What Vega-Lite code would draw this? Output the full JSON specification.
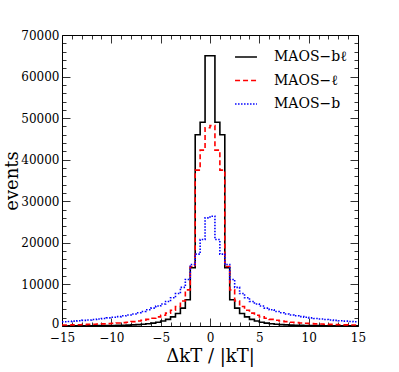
{
  "$schema": "https://vega.github.io/schema/vega-lite/v6.json",
  "width": 296,
  "height": 291,
  "autosize": "none",
  "padding": {"left": 62, "top": 35, "right": 41, "bottom": 46},
  "config": {
    "view": {"stroke": "black", "strokeWidth": 1},
    "font": "DejaVu Serif",
    "axis": {"labelFont": "DejaVu Serif", "titleFont": "DejaVu Serif", "labelColor": "black", "titleColor": "black", "tickColor": "black", "titleFontWeight": "normal", "grid": false, "domain": false, "labelOverlap": false, "labelFlush": false, "tickWidth": 0.8}
  },
  "data": {"values": [
    {"s":"MAOS−bℓ","x":-15,"n":40},{"s":"MAOS−bℓ","x":-14.5,"n":40},{"s":"MAOS−bℓ","x":-14,"n":45},{"s":"MAOS−bℓ","x":-13.5,"n":50},{"s":"MAOS−bℓ","x":-13,"n":55},{"s":"MAOS−bℓ","x":-12.5,"n":60},{"s":"MAOS−bℓ","x":-12,"n":70},{"s":"MAOS−bℓ","x":-11.5,"n":80},{"s":"MAOS−bℓ","x":-11,"n":90},{"s":"MAOS−bℓ","x":-10.5,"n":100},
    {"s":"MAOS−bℓ","x":-10,"n":120},{"s":"MAOS−bℓ","x":-9.5,"n":150},{"s":"MAOS−bℓ","x":-9,"n":180},{"s":"MAOS−bℓ","x":-8.5,"n":220},{"s":"MAOS−bℓ","x":-8,"n":270},{"s":"MAOS−bℓ","x":-7.5,"n":340},{"s":"MAOS−bℓ","x":-7,"n":430},{"s":"MAOS−bℓ","x":-6.5,"n":550},{"s":"MAOS−bℓ","x":-6,"n":700},{"s":"MAOS−bℓ","x":-5.5,"n":900},
    {"s":"MAOS−bℓ","x":-5,"n":1200},{"s":"MAOS−bℓ","x":-4.5,"n":1600},{"s":"MAOS−bℓ","x":-4,"n":2200},{"s":"MAOS−bℓ","x":-3.5,"n":3000},{"s":"MAOS−bℓ","x":-3,"n":4300},{"s":"MAOS−bℓ","x":-2.5,"n":6300},{"s":"MAOS−bℓ","x":-2,"n":14000},{"s":"MAOS−bℓ","x":-1.5,"n":46000},{"s":"MAOS−bℓ","x":-1,"n":49000},{"s":"MAOS−bℓ","x":-0.5,"n":65000},
    {"s":"MAOS−bℓ","x":0,"n":65000},{"s":"MAOS−bℓ","x":0.5,"n":49000},{"s":"MAOS−bℓ","x":1,"n":46000},{"s":"MAOS−bℓ","x":1.5,"n":14000},{"s":"MAOS−bℓ","x":2,"n":6300},{"s":"MAOS−bℓ","x":2.5,"n":4300},{"s":"MAOS−bℓ","x":3,"n":3000},{"s":"MAOS−bℓ","x":3.5,"n":2200},{"s":"MAOS−bℓ","x":4,"n":1600},{"s":"MAOS−bℓ","x":4.5,"n":1200},
    {"s":"MAOS−bℓ","x":5,"n":900},{"s":"MAOS−bℓ","x":5.5,"n":700},{"s":"MAOS−bℓ","x":6,"n":550},{"s":"MAOS−bℓ","x":6.5,"n":430},{"s":"MAOS−bℓ","x":7,"n":340},{"s":"MAOS−bℓ","x":7.5,"n":270},{"s":"MAOS−bℓ","x":8,"n":220},{"s":"MAOS−bℓ","x":8.5,"n":180},{"s":"MAOS−bℓ","x":9,"n":150},{"s":"MAOS−bℓ","x":9.5,"n":120},
    {"s":"MAOS−bℓ","x":10,"n":100},{"s":"MAOS−bℓ","x":10.5,"n":90},{"s":"MAOS−bℓ","x":11,"n":80},{"s":"MAOS−bℓ","x":11.5,"n":70},{"s":"MAOS−bℓ","x":12,"n":60},{"s":"MAOS−bℓ","x":12.5,"n":55},{"s":"MAOS−bℓ","x":13,"n":50},{"s":"MAOS−bℓ","x":13.5,"n":45},{"s":"MAOS−bℓ","x":14,"n":40},{"s":"MAOS−bℓ","x":14.5,"n":40},{"s":"MAOS−bℓ","x":15,"n":40},

    {"s":"MAOS−ℓ","x":-15,"n":230},{"s":"MAOS−ℓ","x":-14.5,"n":250},{"s":"MAOS−ℓ","x":-14,"n":280},{"s":"MAOS−ℓ","x":-13.5,"n":310},{"s":"MAOS−ℓ","x":-13,"n":340},{"s":"MAOS−ℓ","x":-12.5,"n":380},{"s":"MAOS−ℓ","x":-12,"n":420},{"s":"MAOS−ℓ","x":-11.5,"n":470},{"s":"MAOS−ℓ","x":-11,"n":520},{"s":"MAOS−ℓ","x":-10.5,"n":580},
    {"s":"MAOS−ℓ","x":-10,"n":650},{"s":"MAOS−ℓ","x":-9.5,"n":730},{"s":"MAOS−ℓ","x":-9,"n":820},{"s":"MAOS−ℓ","x":-8.5,"n":920},{"s":"MAOS−ℓ","x":-8,"n":1050},{"s":"MAOS−ℓ","x":-7.5,"n":1200},{"s":"MAOS−ℓ","x":-7,"n":1400},{"s":"MAOS−ℓ","x":-6.5,"n":1600},{"s":"MAOS−ℓ","x":-6,"n":1850},{"s":"MAOS−ℓ","x":-5.5,"n":2200},
    {"s":"MAOS−ℓ","x":-5,"n":2600},{"s":"MAOS−ℓ","x":-4.5,"n":3100},{"s":"MAOS−ℓ","x":-4,"n":3800},{"s":"MAOS−ℓ","x":-3.5,"n":4700},{"s":"MAOS−ℓ","x":-3,"n":6000},{"s":"MAOS−ℓ","x":-2.5,"n":8700},{"s":"MAOS−ℓ","x":-2,"n":14300},{"s":"MAOS−ℓ","x":-1.5,"n":37500},{"s":"MAOS−ℓ","x":-1,"n":42300},{"s":"MAOS−ℓ","x":-0.5,"n":47700},
    {"s":"MAOS−ℓ","x":0,"n":48200},{"s":"MAOS−ℓ","x":0.5,"n":42300},{"s":"MAOS−ℓ","x":1,"n":37500},{"s":"MAOS−ℓ","x":1.5,"n":14300},{"s":"MAOS−ℓ","x":2,"n":8700},{"s":"MAOS−ℓ","x":2.5,"n":6000},{"s":"MAOS−ℓ","x":3,"n":4700},{"s":"MAOS−ℓ","x":3.5,"n":3800},{"s":"MAOS−ℓ","x":4,"n":3100},{"s":"MAOS−ℓ","x":4.5,"n":2600},
    {"s":"MAOS−ℓ","x":5,"n":2200},{"s":"MAOS−ℓ","x":5.5,"n":1850},{"s":"MAOS−ℓ","x":6,"n":1600},{"s":"MAOS−ℓ","x":6.5,"n":1400},{"s":"MAOS−ℓ","x":7,"n":1200},{"s":"MAOS−ℓ","x":7.5,"n":1050},{"s":"MAOS−ℓ","x":8,"n":920},{"s":"MAOS−ℓ","x":8.5,"n":820},{"s":"MAOS−ℓ","x":9,"n":730},{"s":"MAOS−ℓ","x":9.5,"n":650},
    {"s":"MAOS−ℓ","x":10,"n":580},{"s":"MAOS−ℓ","x":10.5,"n":520},{"s":"MAOS−ℓ","x":11,"n":470},{"s":"MAOS−ℓ","x":11.5,"n":420},{"s":"MAOS−ℓ","x":12,"n":380},{"s":"MAOS−ℓ","x":12.5,"n":340},{"s":"MAOS−ℓ","x":13,"n":310},{"s":"MAOS−ℓ","x":13.5,"n":280},{"s":"MAOS−ℓ","x":14,"n":250},{"s":"MAOS−ℓ","x":14.5,"n":230},{"s":"MAOS−ℓ","x":15,"n":230},

    {"s":"MAOS−b","x":-15,"n":1020},{"s":"MAOS−b","x":-14.5,"n":1090},{"s":"MAOS−b","x":-14,"n":1170},{"s":"MAOS−b","x":-13.5,"n":1260},{"s":"MAOS−b","x":-13,"n":1350},{"s":"MAOS−b","x":-12.5,"n":1450},{"s":"MAOS−b","x":-12,"n":1560},{"s":"MAOS−b","x":-11.5,"n":1680},{"s":"MAOS−b","x":-11,"n":1800},{"s":"MAOS−b","x":-10.5,"n":1950},
    {"s":"MAOS−b","x":-10,"n":2100},{"s":"MAOS−b","x":-9.5,"n":2250},{"s":"MAOS−b","x":-9,"n":2450},{"s":"MAOS−b","x":-8.5,"n":2650},{"s":"MAOS−b","x":-8,"n":2900},{"s":"MAOS−b","x":-7.5,"n":3200},{"s":"MAOS−b","x":-7,"n":3500},{"s":"MAOS−b","x":-6.5,"n":3900},{"s":"MAOS−b","x":-6,"n":4300},{"s":"MAOS−b","x":-5.5,"n":4800},
    {"s":"MAOS−b","x":-5,"n":5300},{"s":"MAOS−b","x":-4.5,"n":5900},{"s":"MAOS−b","x":-4,"n":6800},{"s":"MAOS−b","x":-3.5,"n":7800},{"s":"MAOS−b","x":-3,"n":9300},{"s":"MAOS−b","x":-2.5,"n":11200},{"s":"MAOS−b","x":-2,"n":14800},{"s":"MAOS−b","x":-1.5,"n":17300},{"s":"MAOS−b","x":-1,"n":20800},{"s":"MAOS−b","x":-0.5,"n":26000},
    {"s":"MAOS−b","x":0,"n":26400},{"s":"MAOS−b","x":0.5,"n":20800},{"s":"MAOS−b","x":1,"n":17300},{"s":"MAOS−b","x":1.5,"n":14800},{"s":"MAOS−b","x":2,"n":11200},{"s":"MAOS−b","x":2.5,"n":9300},{"s":"MAOS−b","x":3,"n":7800},{"s":"MAOS−b","x":3.5,"n":6800},{"s":"MAOS−b","x":4,"n":5900},{"s":"MAOS−b","x":4.5,"n":5300},
    {"s":"MAOS−b","x":5,"n":4800},{"s":"MAOS−b","x":5.5,"n":4300},{"s":"MAOS−b","x":6,"n":3900},{"s":"MAOS−b","x":6.5,"n":3500},{"s":"MAOS−b","x":7,"n":3200},{"s":"MAOS−b","x":7.5,"n":2900},{"s":"MAOS−b","x":8,"n":2650},{"s":"MAOS−b","x":8.5,"n":2450},{"s":"MAOS−b","x":9,"n":2250},{"s":"MAOS−b","x":9.5,"n":2100},
    {"s":"MAOS−b","x":10,"n":1950},{"s":"MAOS−b","x":10.5,"n":1800},{"s":"MAOS−b","x":11,"n":1680},{"s":"MAOS−b","x":11.5,"n":1560},{"s":"MAOS−b","x":12,"n":1450},{"s":"MAOS−b","x":12.5,"n":1350},{"s":"MAOS−b","x":13,"n":1260},{"s":"MAOS−b","x":13.5,"n":1170},{"s":"MAOS−b","x":14,"n":1090},{"s":"MAOS−b","x":14.5,"n":1020},{"s":"MAOS−b","x":15,"n":1020}
  ]},
  "layer": [
    {
      "mark": {"type": "line", "interpolate": "step-after", "strokeWidth": 1.6, "clip": true},
      "encoding": {
        "x": {"field": "x", "type": "quantitative",
          "scale": {"domain": [-15, 15], "nice": false, "zero": false},
          "axis": {"orient": "bottom", "values": [-15,-14,-13,-12,-11,-10,-9,-8,-7,-6,-5,-4,-3,-2,-1,0,1,2,3,4,5,6,7,8,9,10,11,12,13,14,15],
            "format": "d", "labelExpr": "datum.value % 5 === 0 ? datum.label : ''",
            "tickSize": {"condition": {"test": "datum.value % 5 === 0", "value": -8}, "value": -4},
            "labelPadding": 14, "labelFontSize": 12,
            "title": "ΔkT / |kT|", "titleFontSize": 18, "titlePadding": 0}},
        "y": {"field": "n", "type": "quantitative",
          "scale": {"domain": [0, 70000], "nice": false},
          "axis": {"orient": "left", "values": [0,2000,4000,6000,8000,10000,12000,14000,16000,18000,20000,22000,24000,26000,28000,30000,32000,34000,36000,38000,40000,42000,44000,46000,48000,50000,52000,54000,56000,58000,60000,62000,64000,66000,68000,70000],
            "format": "d", "labelExpr": "datum.value % 10000 === 0 ? datum.label : ''",
            "tickSize": {"condition": {"test": "datum.value % 10000 === 0", "value": -8}, "value": -4},
            "labelOffset": {"condition": {"test": "datum.value === 0", "value": -3}, "value": 0},
            "labelPadding": 11, "labelFontSize": 12,
            "title": "events", "titleFontSize": 18, "titlePadding": -1}},
        "color": {"field": "s", "type": "nominal",
          "scale": {"domain": ["MAOS−bℓ", "MAOS−ℓ", "MAOS−b"], "range": ["#000000", "#ff0000", "#0000ff"]},
          "legend": {"orient": "none", "legendX": 172, "legendY": 10, "title": null, "symbolType": "stroke", "symbolSize": 480, "symbolStrokeWidth": 1.6, "labelFont": "DejaVu Serif", "labelFontSize": 14, "labelColor": "black", "labelOffset": 16, "rowPadding": 4.5}},
        "strokeDash": {"field": "s", "type": "nominal",
          "scale": {"domain": ["MAOS−bℓ", "MAOS−ℓ", "MAOS−b"], "range": [[1, 0], [5, 3], [1.5, 1.5]]},
          "legend": {"orient": "none", "legendX": 172, "legendY": 10, "title": null, "symbolType": "stroke", "symbolSize": 480, "symbolStrokeWidth": 1.6, "labelFont": "DejaVu Serif", "labelFontSize": 14, "labelColor": "black", "labelOffset": 16, "rowPadding": 4.5}}
      }
    },
    {
      "mark": {"type": "line", "opacity": 0},
      "encoding": {
        "x": {"field": "x", "type": "quantitative",
          "axis": {"orient": "top", "values": [-15,-14,-13,-12,-11,-10,-9,-8,-7,-6,-5,-4,-3,-2,-1,0,1,2,3,4,5,6,7,8,9,10,11,12,13,14,15],
            "labels": false, "title": null,
            "tickSize": {"condition": {"test": "datum.value % 5 === 0", "value": -8}, "value": -4}}},
        "y": {"field": "n", "type": "quantitative",
          "axis": {"orient": "right", "values": [0,2000,4000,6000,8000,10000,12000,14000,16000,18000,20000,22000,24000,26000,28000,30000,32000,34000,36000,38000,40000,42000,44000,46000,48000,50000,52000,54000,56000,58000,60000,62000,64000,66000,68000,70000],
            "labels": false, "title": null,
            "tickSize": {"condition": {"test": "datum.value % 10000 === 0", "value": -8}, "value": -4}}}
      }
    }
  ],
  "resolve": {"axis": {"x": "independent", "y": "independent"}}
}
